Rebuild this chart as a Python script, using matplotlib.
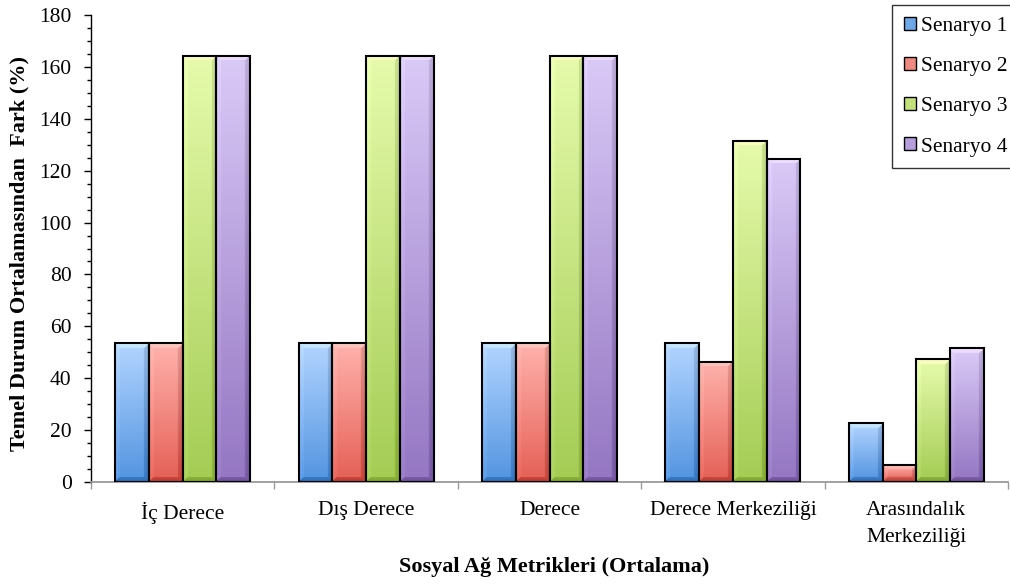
import numpy as np
import matplotlib.pyplot as plt
from matplotlib.patches import Patch
from matplotlib.ticker import MultipleLocator, FixedLocator

plt.rcParams['font.family'] = ['Liberation Serif', 'DejaVu Serif']

metrics = ['İç Derece', 'Dış Derece', 'Derece', 'Derece Merkeziliği',
           'Arasındalık\nMerkeziliği']
scenarios = ['Senaryo 1', 'Senaryo 2', 'Senaryo 3', 'Senaryo 4']
senaryo1 = [53.5, 53.5, 53.5, 53.5, 22.6]
senaryo2 = [53.5, 53.5, 53.5, 46.4, 6.6]
senaryo3 = [164.2, 164.2, 164.2, 131.6, 47.4]
senaryo4 = [164.2, 164.2, 164.2, 124.5, 51.5]
values = [senaryo1, senaryo2, senaryo3, senaryo4]

# light (top) and dark (bottom) shade of each series
tops = [(178, 212, 255), (255, 178, 172), (230, 251, 172), (218, 202, 247)]
bottoms = [(82, 148, 224), (228, 96, 86), (164, 204, 84), (148, 118, 194)]
mids = ['#6fa8e6', '#f08a80', '#c4e07a', '#b49fdc']


def bevel_image(top, bot, rows, cols, b=5):
    top = np.array(top) / 255.0
    bot = np.array(bot) / 255.0
    t = np.linspace(0, 1, rows)[:, None, None]
    img = top * (1 - t) + bot * t
    img = np.broadcast_to(img, (rows, cols, 3)).copy()
    i = np.arange(rows)[:, None]
    j = np.arange(cols)[None, :]
    d = np.stack([np.broadcast_to(i, (rows, cols)),
                  np.broadcast_to(rows - 1 - i, (rows, cols)),
                  np.broadcast_to(j, (rows, cols)),
                  np.broadcast_to(cols - 1 - j, (rows, cols))])
    edge = d.argmin(axis=0)
    dmin = d.min(axis=0)
    shade = np.array([0.10, -0.16, 0.04, -0.14])[edge]
    fade = np.clip(1 - dmin / b, 0, 1)
    fade = np.where(dmin < b, 0.6 + 0.4 * fade, 0)
    img = img + (shade * fade)[:, :, None]
    return np.clip(img, 0, 1)


fig = plt.figure(figsize=(10.1, 5.85), dpi=100)
ax = fig.add_axes([91 / 1010, 1 - 482 / 585, 917 / 1010, 467 / 585])
ax.set_xlim(-0.5, 4.5)
ax.set_ylim(0, 180)

x = np.arange(len(metrics))
w = 0.184
for k, vals in enumerate(values):
    bars = ax.bar(x + (k - 1.5) * w, vals, w, facecolor='none',
                  edgecolor='black', linewidth=1.5, zorder=3)
    for p in bars:
        x0, h = p.get_x(), p.get_height()
        (px0, py0), (px1, py1) = ax.transData.transform([(x0, 0), (x0 + w, h)])
        img = bevel_image(tops[k], bottoms[k],
                          max(int(py1 - py0), 2), max(int(px1 - px0), 2))
        ax.imshow(img, extent=(x0, x0 + w, 0, h), origin='upper',
                  aspect='auto', interpolation='bilinear', zorder=2)
ax.set_xlim(-0.5, 4.5)
ax.set_ylim(0, 180)

for s in ['top', 'right']:
    ax.spines[s].set_visible(False)
ax.spines['left'].set_color('black')
ax.spines['left'].set_linewidth(1.0)
ax.spines['bottom'].set_color('#9a9a9a')
ax.spines['bottom'].set_linewidth(1.3)

ax.yaxis.set_major_locator(MultipleLocator(20))
ax.yaxis.set_minor_locator(MultipleLocator(5))
ax.tick_params(axis='y', which='major', length=5, width=1, pad=9,
               labelsize=15.5)
ax.tick_params(axis='y', which='minor', length=3, width=1)

ax.xaxis.set_major_locator(FixedLocator(np.arange(-0.5, 4.6, 1)))
ax.xaxis.set_major_formatter(plt.NullFormatter())
ax.set_xticks(x, metrics, minor=True)
ax.tick_params(axis='x', which='major', length=5, width=1, color='#9a9a9a')
ax.tick_params(axis='x', which='minor', length=0, pad=14, labelsize=15.5)
for lbl in ax.get_xticklabels(minor=True):
    lbl.set_linespacing(1.55)

ax.set_ylabel('Temel Durum Ortalamasından  Fark (%)', fontsize=16,
              fontweight='bold')
ax.yaxis.set_label_coords(-0.067, 0.49)
ax.set_xlabel('Sosyal Ağ Metrikleri (Ortalama)', fontsize=16,
              fontweight='bold')
ax.xaxis.set_label_coords(0.505, -0.161)

handles = [Patch(facecolor=mids[k], edgecolor='black', linewidth=1.0)
           for k in range(4)]
leg = ax.legend(handles, scenarios, loc='upper left',
                bbox_to_anchor=(892 / 1010, 1 - 5 / 585),
                bbox_transform=fig.transFigure, fontsize=15.5,
                frameon=True, fancybox=False, borderaxespad=0,
                handlelength=0.55, handleheight=0.55, handletextpad=0.25,
                labelspacing=0.98, borderpad=0.55)
leg.get_frame().set_edgecolor('black')
leg.get_frame().set_linewidth(1.0)

fig.savefig('out.png', dpi=100)
